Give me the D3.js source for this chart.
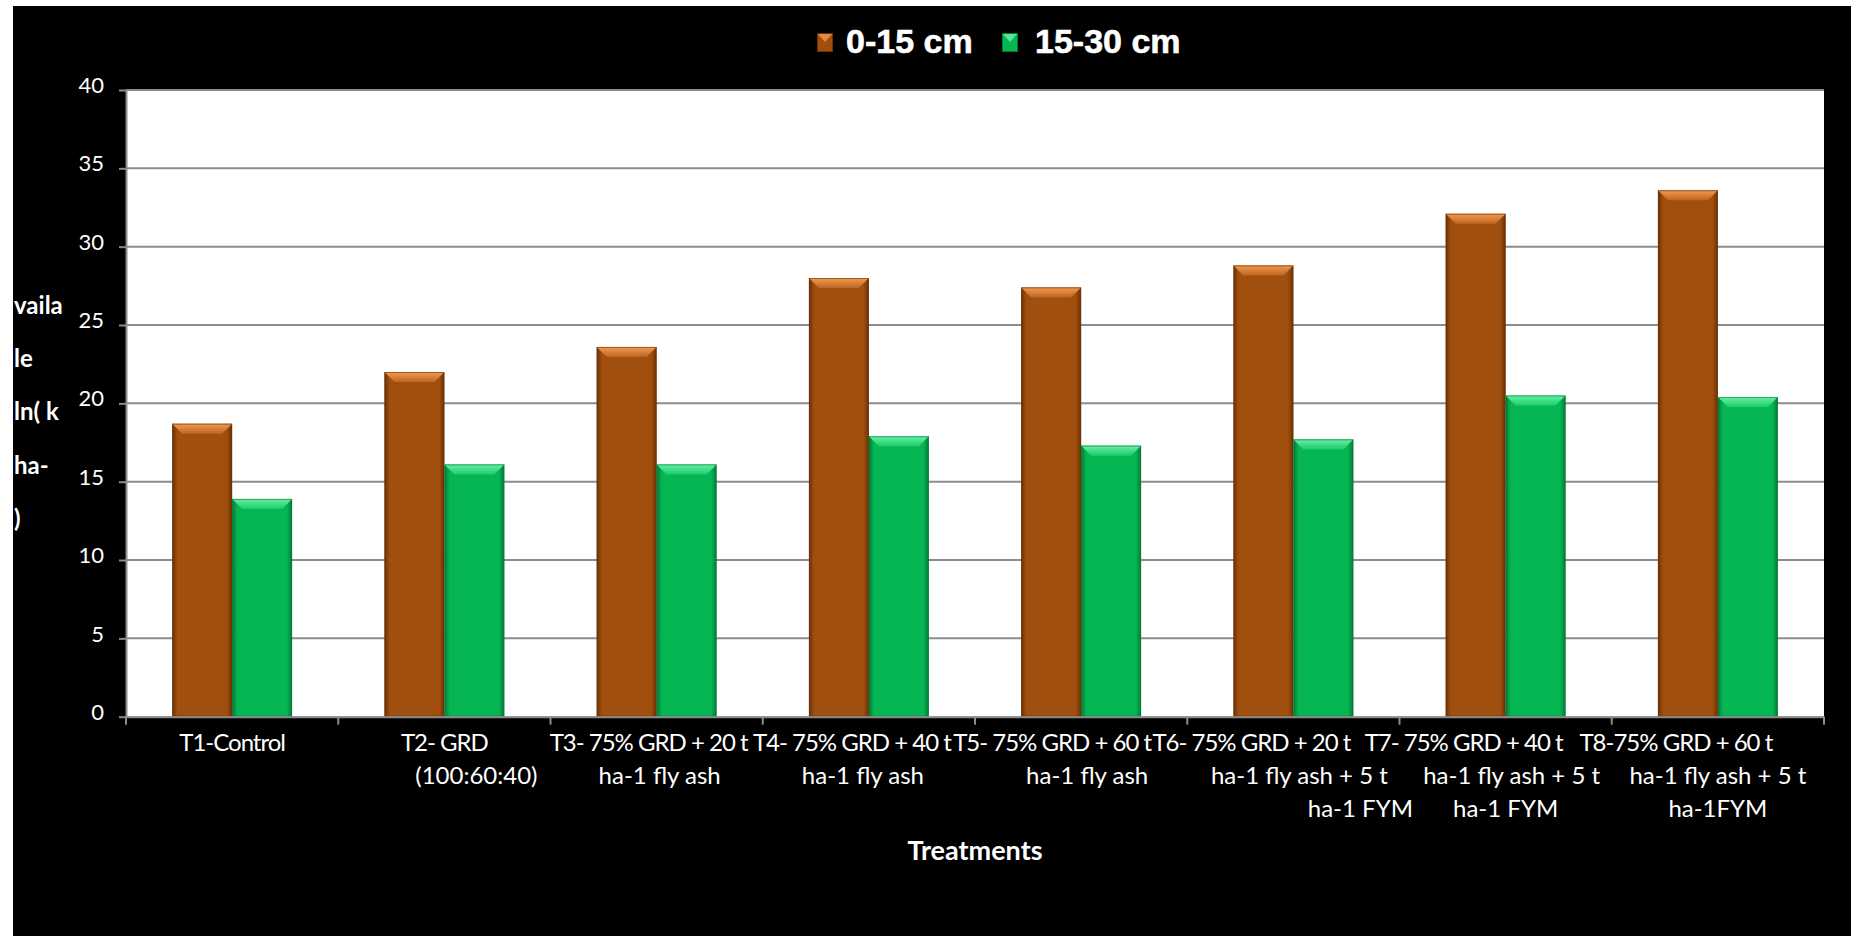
<!DOCTYPE html>
<html>
<head>
<meta charset="utf-8">
<script src="https://cdn.jsdelivr.net/npm/d3@7"></script>
<style>
  html, body { margin: 0; padding: 0; background: #fff; }
  svg { display: block; }
</style>
</head>
<body>
<svg id="chart" width="1851" height="936"></svg>
<script>
// Treatments (category keys) and their wrapped axis labels
const categories = ["T1", "T2", "T3", "T4", "T5", "T6", "T7", "T8"];
const categoryLabels = [
  ["T1-Control"],
  ["T2- GRD", "(100:60:40)"],
  ["T3- 75% GRD + 20 t", "ha-1 fly ash"],
  ["T4- 75% GRD + 40 t", "ha-1 fly ash"],
  ["T5- 75% GRD + 60 t", "ha-1 fly ash"],
  ["T6- 75% GRD + 20 t", "ha-1 fly ash + 5 t", "ha-1 FYM"],
  ["T7- 75% GRD + 40 t", "ha-1 fly ash + 5 t", "ha-1 FYM"],
  ["T8-75% GRD + 60 t", "ha-1 fly ash + 5 t", "ha-1FYM"]
];

// Soil depth series
const seriesNames = ["0-15 cm", "15-30 cm"];
const depth0to15 = [18.7, 22.0, 23.6, 28.0, 27.4, 28.8, 32.1, 33.6];
const depth15to30 = [13.9, 16.1, 16.1, 17.9, 17.3, 17.7, 20.5, 20.4];

// Value axis
const yTicks = [0, 5, 10, 15, 20, 25, 30, 35, 40];
const yTitleLines = ["vaila", "le", "ln( k", "ha-", ")"];
const xTitle = "Treatments";

const seriesValues = [depth0to15, depth15to30];

const palettes = [
  { id: "orange", dark: "#6a3105", body: "#A14F0E", light: "#F39A52", mid: "#BE6520" },
  { id: "green",  dark: "#047a37", body: "#05B653", light: "#66F2A4", mid: "#1FCB6B" }
];

const svg = d3.select("#chart");
const W = 1851, H = 936;

// black backdrop
svg.append("rect").attr("x", 13).attr("y", 6).attr("width", W - 13).attr("height", H - 6).attr("fill", "#000");

const plot = { left: 126, right: 1824, top: 90, bottom: 716.7 };

const x = d3.scaleBand().domain(categories).range([plot.left, plot.right]).paddingInner(0).paddingOuter(0);
const xs = d3.scaleBand().domain(seriesNames).range([0, x.bandwidth()]).paddingInner(0).paddingOuter(0.77);
const y = d3.scaleLinear().domain([0, 40]).range([plot.bottom, plot.top]);

// gradients for the bevelled bars
const defs = svg.append("defs");
palettes.forEach(p => {
  const side = defs.append("linearGradient").attr("id", "side-" + p.id).attr("x1", 0).attr("x2", 1).attr("y1", 0).attr("y2", 0);
  side.append("stop").attr("offset", "0%").attr("stop-color", p.dark);
  side.append("stop").attr("offset", "9%").attr("stop-color", p.body);
  side.append("stop").attr("offset", "91%").attr("stop-color", p.body);
  side.append("stop").attr("offset", "100%").attr("stop-color", p.dark);
  const top = defs.append("linearGradient").attr("id", "top-" + p.id).attr("x1", 0).attr("x2", 0).attr("y1", 0).attr("y2", 1);
  top.append("stop").attr("offset", "0%").attr("stop-color", p.light);
  top.append("stop").attr("offset", "100%").attr("stop-color", p.mid);
});

// plot area
svg.append("rect").attr("x", plot.left).attr("y", plot.top)
  .attr("width", plot.right - plot.left).attr("height", plot.bottom - plot.top).attr("fill", "#fff");

// gridlines
svg.append("g").selectAll("line").data(yTicks.filter(v => v > 0)).join("line")
  .attr("x1", plot.left).attr("x2", plot.right)
  .attr("y1", d => y(d)).attr("y2", d => y(d))
  .attr("stroke", "#8c8c8c").attr("stroke-width", 2);

// bars
function bevelBar(g, x0, w, yTop, yBase, p) {
  const h = yBase - yTop;
  g.append("rect").attr("x", x0).attr("y", yTop).attr("width", w).attr("height", h)
    .attr("fill", `url(#side-${p.id})`);
  const b = Math.min(10, h / 2);
  g.append("path")
    .attr("d", `M${x0},${yTop}H${x0 + w}L${x0 + w - b},${yTop + b}H${x0 + b}Z`)
    .attr("fill", `url(#top-${p.id})`);
  g.append("rect").attr("x", x0 + 0.5).attr("y", yTop + 0.5).attr("width", w - 1).attr("height", h - 1)
    .attr("fill", "none").attr("stroke", p.dark).attr("stroke-opacity", 0.6).attr("stroke-width", 1);
}

const barLayer = svg.append("g");
categories.forEach((c, i) => {
  seriesNames.forEach((s, k) => {
    const v = seriesValues[k][i];
    bevelBar(barLayer, x(c) + xs(s), xs.bandwidth(), y(v), y(0), palettes[k]);
  });
});

// value axis
const yAxis = svg.append("g").attr("transform", `translate(${plot.left},0)`)
  .call(d3.axisLeft(y).tickValues(yTicks).tickSize(7).tickSizeOuter(0).tickPadding(15));
yAxis.select(".domain").attr("stroke", "#8c8c8c").attr("stroke-width", 2);
yAxis.selectAll(".tick line").attr("stroke", "#8c8c8c").attr("stroke-width", 2);
yAxis.selectAll(".tick text").attr("fill", "#fff").attr("font-family", "Lato, sans-serif")
  .attr("font-size", 22).attr("dy", "0.12em");

// category axis
const xAxis = svg.append("g").attr("transform", `translate(0,${plot.bottom})`)
  .call(d3.axisBottom(x).tickSize(0).tickSizeOuter(0).tickFormat(""));
xAxis.select(".domain").attr("stroke", "#8c8c8c").attr("stroke-width", 2);
xAxis.selectAll(".tick").remove();

const bounds = categories.map(c => x(c)).concat([x(categories[categories.length - 1]) + x.bandwidth()]);
xAxis.selectAll("line.boundary").data(bounds).join("line").attr("class", "boundary")
  .attr("x1", d => d).attr("x2", d => d).attr("y1", 0).attr("y2", 8)
  .attr("stroke", "#8c8c8c").attr("stroke-width", 2);

// wrapped category labels; each wrapped line sits slightly off the band centre
const labelLineShift = [
  [0],
  [0, 32],
  [-8, 3],
  [-17, -6],
  [-29, 6],
  [-42, 6, 67],
  [-42, 6, 0],
  [-42, 0, 0]
];
const labels = svg.append("g").attr("font-family", "Lato, sans-serif").attr("font-size", 24).attr("fill", "#fff")
  .attr("text-anchor", "middle");
categories.forEach((c, i) => {
  const cx = x(c) + x.bandwidth() / 2;
  const t = labels.append("text").attr("x", cx).attr("y", 751);
  categoryLabels[i].forEach((line, j) => {
    t.append("tspan")
      .attr("x", cx + labelLineShift[i][j])
      .attr("dy", j === 0 ? 0 : 33)
      .attr("letter-spacing", j === 0 ? -1 : 0)
      .text(line);
  });
});

// axis titles
svg.append("text").attr("x", (plot.left + plot.right) / 2).attr("y", 860)
  .attr("text-anchor", "middle").attr("font-family", "Lato, sans-serif").attr("font-weight", "bold")
  .attr("font-size", 27).attr("fill", "#fff").text(xTitle);

const yTitle = svg.append("text").attr("font-family", "Lato, sans-serif").attr("font-weight", "bold")
  .attr("font-size", 24).attr("fill", "#fff");
yTitleLines.forEach((line, j) => {
  yTitle.append("tspan").attr("x", 14).attr("y", 314 + j * 53.2).text(line);
});

// legend
const legend = svg.append("g");
const legendItems = [
  { name: seriesNames[0], mx: 817, tx: 846, p: palettes[0] },
  { name: seriesNames[1], mx: 1002, tx: 1035, p: palettes[1] }
];
legendItems.forEach(it => {
  const g = legend.append("g");
  g.append("rect").attr("x", it.mx).attr("y", 33).attr("width", 16).attr("height", 19).attr("fill", it.p.body);
  g.append("path").attr("d", `M${it.mx},33H${it.mx + 16}L${it.mx + 8},${33 + 9}Z`).attr("fill", it.p.light).attr("opacity", 0.8);
  g.append("rect").attr("x", it.mx + 0.5).attr("y", 33.5).attr("width", 15).attr("height", 18)
    .attr("fill", "none").attr("stroke", it.p.dark).attr("stroke-width", 1);
  g.append("text").attr("x", it.tx).attr("y", 53).attr("font-family", "'Liberation Sans', Arial, sans-serif")
    .attr("font-weight", "bold").attr("font-size", 34).attr("fill", "#fff")
    .attr("stroke", "#fff").attr("stroke-width", 0.6).text(it.name);
});
</script>
</body>
</html>
